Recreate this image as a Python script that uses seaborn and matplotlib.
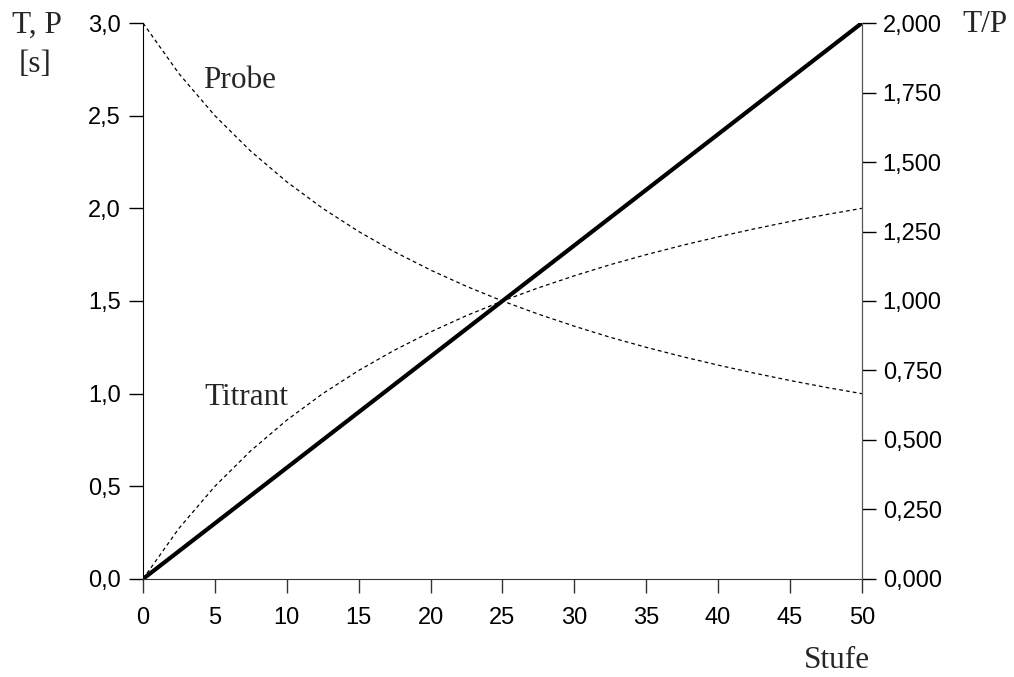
import numpy as np
import pandas as pd
import matplotlib
matplotlib.use("Agg")
import matplotlib.pyplot as plt
from matplotlib.ticker import FuncFormatter
import seaborn as sns

# values
stufe = [0, 2.5, 5, 7.5, 10, 12.5, 15, 17.5, 20, 22.5, 25,
         27.5, 30, 32.5, 35, 37.5, 40, 42.5, 45, 47.5, 50]
probe = [3.0, 2.727, 2.5, 2.308, 2.143, 2.0, 1.875, 1.765, 1.667, 1.579, 1.5,
         1.429, 1.364, 1.304, 1.25, 1.2, 1.154, 1.111, 1.071, 1.034, 1.0]
titrant = [0.0, 0.273, 0.5, 0.692, 0.857, 1.0, 1.125, 1.235, 1.333, 1.421, 1.5,
           1.571, 1.636, 1.696, 1.75, 1.8, 1.846, 1.889, 1.929, 1.966, 2.0]
ratio_x = [0, 50]
ratio = [0.0, 2.0]

left_ticks = [0, 0.5, 1.0, 1.5, 2.0, 2.5, 3.0]
right_ticks = [0, 0.25, 0.5, 0.75, 1.0, 1.25, 1.5, 1.75, 2.0]
x_ticks = [0, 5, 10, 15, 20, 25, 30, 35, 40, 45, 50]

df = pd.DataFrame({"Stufe": stufe, "Probe": probe, "Titrant": titrant})
df_ratio = pd.DataFrame({"Stufe": ratio_x, "TP": ratio})

sns.set_style("ticks")
plt.rcParams['font.family'] = ['Liberation Sans', 'DejaVu Sans']
serif = ['Liberation Serif', 'DejaVu Serif']
LABEL_SIZE = 22.5
TICK_SIZE = 17

fig = plt.figure(figsize=(10.14, 6.77), dpi=100)
ax = fig.add_axes([0.141, 0.1448, 0.709, 0.8212])
ax2 = ax.twinx()

sns.lineplot(data=df, x="Stufe", y="Probe", ax=ax, color="black", lw=0.9,
             linestyle=(0, (3, 2.5)))
sns.lineplot(data=df, x="Stufe", y="Titrant", ax=ax, color="black", lw=0.9,
             linestyle=(0, (3, 2.5)))
sns.lineplot(data=df_ratio, x="Stufe", y="TP", ax=ax2, color="black", lw=3)

ax.set_xlim(0, 50)
ax.set_ylim(0, 3.0)
ax2.set_ylim(0, 2.0)
ax.set_xticks(x_ticks)
ax.set_yticks(left_ticks)
ax2.set_yticks(right_ticks)
ax.yaxis.set_major_formatter(FuncFormatter(lambda v, p: f"{v:.1f}".replace(".", ",")))
ax2.yaxis.set_major_formatter(FuncFormatter(lambda v, p: f"{v:.3f}".replace(".", ",")))
ax.set_xlabel("")
ax.set_ylabel("")
ax2.set_ylabel("")

for a in (ax, ax2):
    a.spines['top'].set_visible(False)
    a.tick_params(length=10, width=1, labelsize=TICK_SIZE, colors="black")
ax.tick_params(axis='x', pad=10)
ax.tick_params(axis='y', pad=6)
ax2.tick_params(axis='y', pad=5)
ax.spines['left'].set_color("black")
ax.spines['bottom'].set_color("#333333")
ax2.spines['right'].set_visible(True)
ax2.spines['right'].set_color("#555555")
ax2.spines['left'].set_visible(False)
ax2.spines['bottom'].set_visible(False)
ax.tick_params(axis='x', colors="#333333", labelcolor="black")

ax.text(4.2, 2.69, "Probe", family=serif, fontsize=LABEL_SIZE, va="center", ha="left")
ax.text(4.3, 0.98, "Titrant", family=serif, fontsize=LABEL_SIZE, va="center", ha="left")
fig.text(37 / 1014, 1 - 25 / 677, "T, P", family=serif, fontsize=LABEL_SIZE, ha="center", va="center")
fig.text(35 / 1014, 1 - 64 / 677, "[s]", family=serif, fontsize=LABEL_SIZE, ha="center", va="center")
fig.text(985 / 1014, 1 - 25 / 677, "T/P", family=serif, fontsize=LABEL_SIZE, ha="center", va="center")
fig.text(837 / 1014, 1 - 660 / 677, "Stufe", family=serif, fontsize=LABEL_SIZE, ha="center", va="center")

fig.savefig("out.png", dpi=100, facecolor="white")
